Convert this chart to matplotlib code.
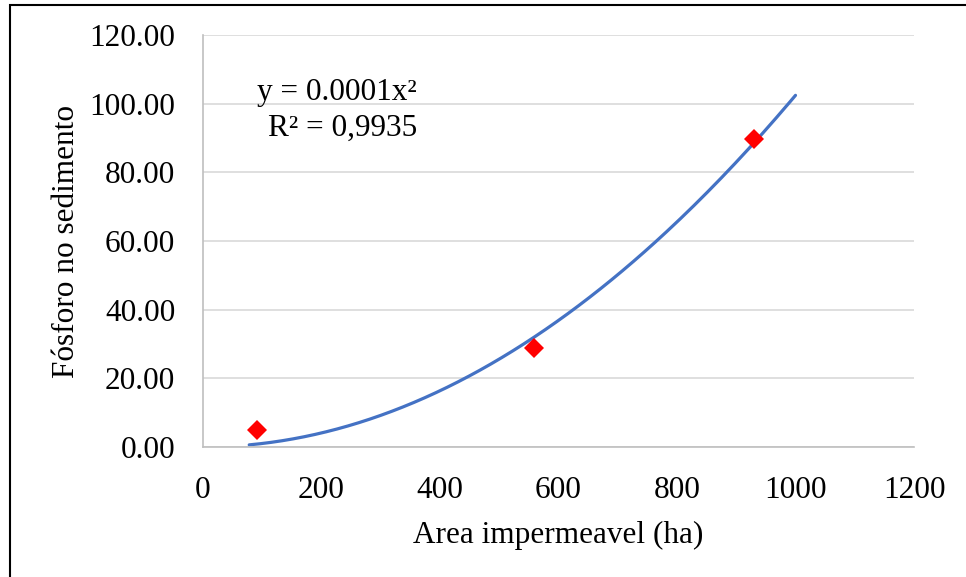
import numpy as np
import matplotlib.pyplot as plt
from matplotlib.patches import Rectangle

# area impermeavel (ha) vs fosforo no sedimento
area = np.array([91, 558, 930])
fosforo = np.array([4.9, 28.7, 89.7])

# extent of the trendline (Excel style forecast range)
trend_range = [78, 1000]

plt.rcParams['font.family'] = ['Liberation Serif', 'DejaVu Serif']
plt.rcParams['font.size'] = 22.5

fig = plt.figure(figsize=(9.66, 5.77), dpi=100)
ax = fig.add_axes([203 / 966, 1 - 447 / 577, (914 - 203) / 966, (447 - 35) / 577])

# y = a*x^2 least squares through the origin
a = np.sum(area**2 * fosforo) / np.sum(area**4)
xx = np.linspace(trend_range[0], trend_range[1], 200)
ax.plot(xx, a * xx**2, color='#4472C4', lw=2.3, solid_capstyle='round', zorder=2)

ax.plot(area, fosforo, 'D', color='red', markersize=10, markeredgewidth=0, zorder=3)

ax.set_xlim(0, 1200)
ax.set_ylim(0, 120)
ax.set_xticks(np.arange(0, 1201, 200))
ax.set_yticks(np.arange(0, 121, 20))
ax.set_yticklabels([f'{v:.2f}' for v in np.arange(0, 121, 20)])
ax.tick_params(axis='y', length=0, pad=20)
ax.tick_params(axis='x', length=0, pad=21)
ax.grid(axis='y', color='#d9d9d9', lw=1.2)
ax.set_axisbelow(True)
for s in ['top', 'right']:
    ax.spines[s].set_visible(False)
for s in ['left', 'bottom']:
    ax.spines[s].set_color('#bfbfbf')
    ax.spines[s].set_linewidth(1.2)

ax.set_xlabel('Area impermeavel (ha)', labelpad=11)
ax.set_ylabel('Fósforo no sedimento', labelpad=6)

ax.text(226, 101.2, 'y = 0.0001x²', ha='center', va='baseline')
ax.text(235, 90.5, 'R² = 0,9935', ha='center', va='baseline')

# chart frame
fig.patches.append(Rectangle((10 / 966, -0.1), 1.2, 1 - 5 / 577 + 0.1,
                             transform=fig.transFigure, fill=False,
                             edgecolor='black', lw=1.5))

fig.savefig('out.png', dpi=100)
